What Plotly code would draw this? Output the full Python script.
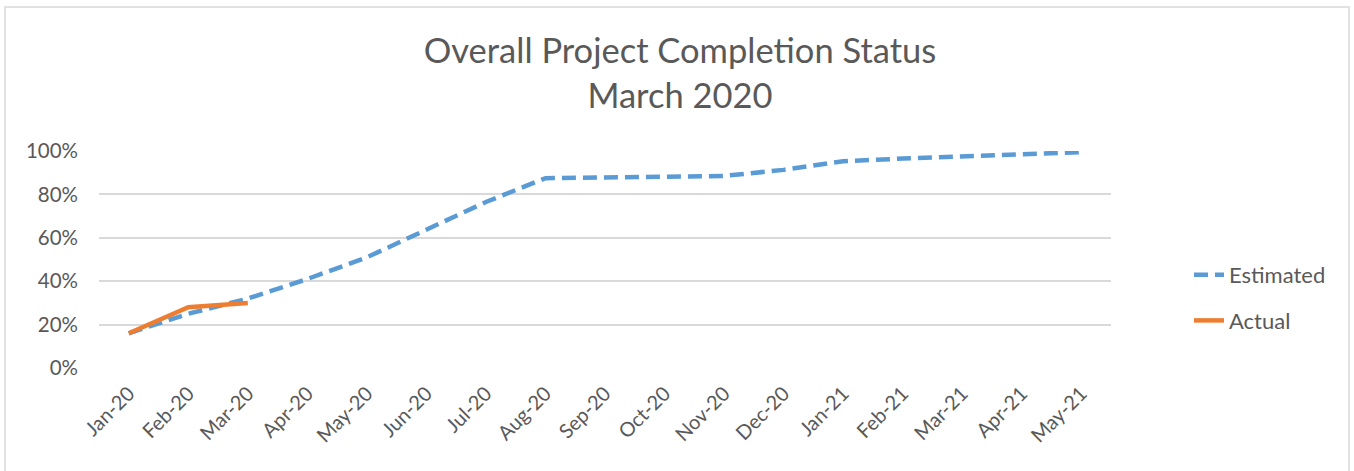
import plotly.graph_objects as go

months = ["Jan-20", "Feb-20", "Mar-20", "Apr-20", "May-20", "Jun-20", "Jul-20", "Aug-20",
          "Sep-20", "Oct-20", "Nov-20", "Dec-20", "Jan-21", "Feb-21", "Mar-21", "Apr-21", "May-21"]
estimated = [0.16, 0.25, 0.32, 0.41, 0.51, 0.635, 0.765, 0.875,
             0.88, 0.882, 0.885, 0.913, 0.953, 0.965, 0.975, 0.985, 0.995]
actual_months = ["Jan-20", "Feb-20", "Mar-20"]
actual = [0.16, 0.28, 0.30]

FONT = "Lato, 'Open Sans', sans-serif"
GRAY = "#595959"

fig = go.Figure()
fig.add_trace(go.Scatter(x=months, y=estimated, name="Estimated", mode="lines",
                         line=dict(color="#5B9BD5", width=4.5, dash="14px,7px"),
                         legendgroup="e"))
fig.add_trace(go.Scatter(x=actual_months, y=actual, name="Actual", mode="lines",
                         line=dict(color="#ED7D31", width=4.5),
                         legendgroup="a"))

W, H = 1354, 471
L, R, T, B = 99, 1111, 151, 368
pw, ph = R - L, B - T

def px(x):
    return (x - L) / pw

def py(y):
    return (B - y) / ph

fig.update_layout(
    width=W, height=H,
    margin=dict(l=L, r=W - R, t=T, b=H - B),
    paper_bgcolor="white", plot_bgcolor="white",
    font=dict(family=FONT, color=GRAY, size=20),
    title=dict(text="Overall Project Completion Status<br>March 2020",
               xref="container", yref="container",
               x=680 / W, xanchor="center", y=1 - 63 / H, yanchor="top",
               font=dict(family=FONT, size=34.5, color=GRAY)),
    xaxis=dict(categoryorder="array", categoryarray=months, tickangle=-45,
               range=[-0.5, len(months) - 0.5],
               showgrid=False, showline=False, ticks="", ticklabelstandoff=9,
               tickfont=dict(size=20, color=GRAY)),
    yaxis=dict(range=[0, 1.0], dtick=0.2, tickformat=".0%", showgrid=True,
               gridcolor="#d9d9d9", gridwidth=1.5, zeroline=False, showline=False,
               ticks="", ticklabelstandoff=20,
               tickfont=dict(size=20.5, color=GRAY)),
    legend=dict(x=px(1189), xanchor="left", y=py(254), yanchor="top",
                font=dict(size=22, color=GRAY), tracegroupgap=14,
                traceorder="grouped", bgcolor="rgba(0,0,0,0)"),
    shapes=[dict(type="rect", xref="paper", yref="paper",
                 x0=px(5), x1=px(1349), y0=py(480), y1=py(7),
                 line=dict(color="#d9d9d9", width=1.5), fillcolor="rgba(0,0,0,0)",
                 layer="below")],
)
fig.update_traces(cliponaxis=False)

fig.write_html("out.html", config={"displayModeBar": False},
               post_script="document.body.style.margin='0';")
